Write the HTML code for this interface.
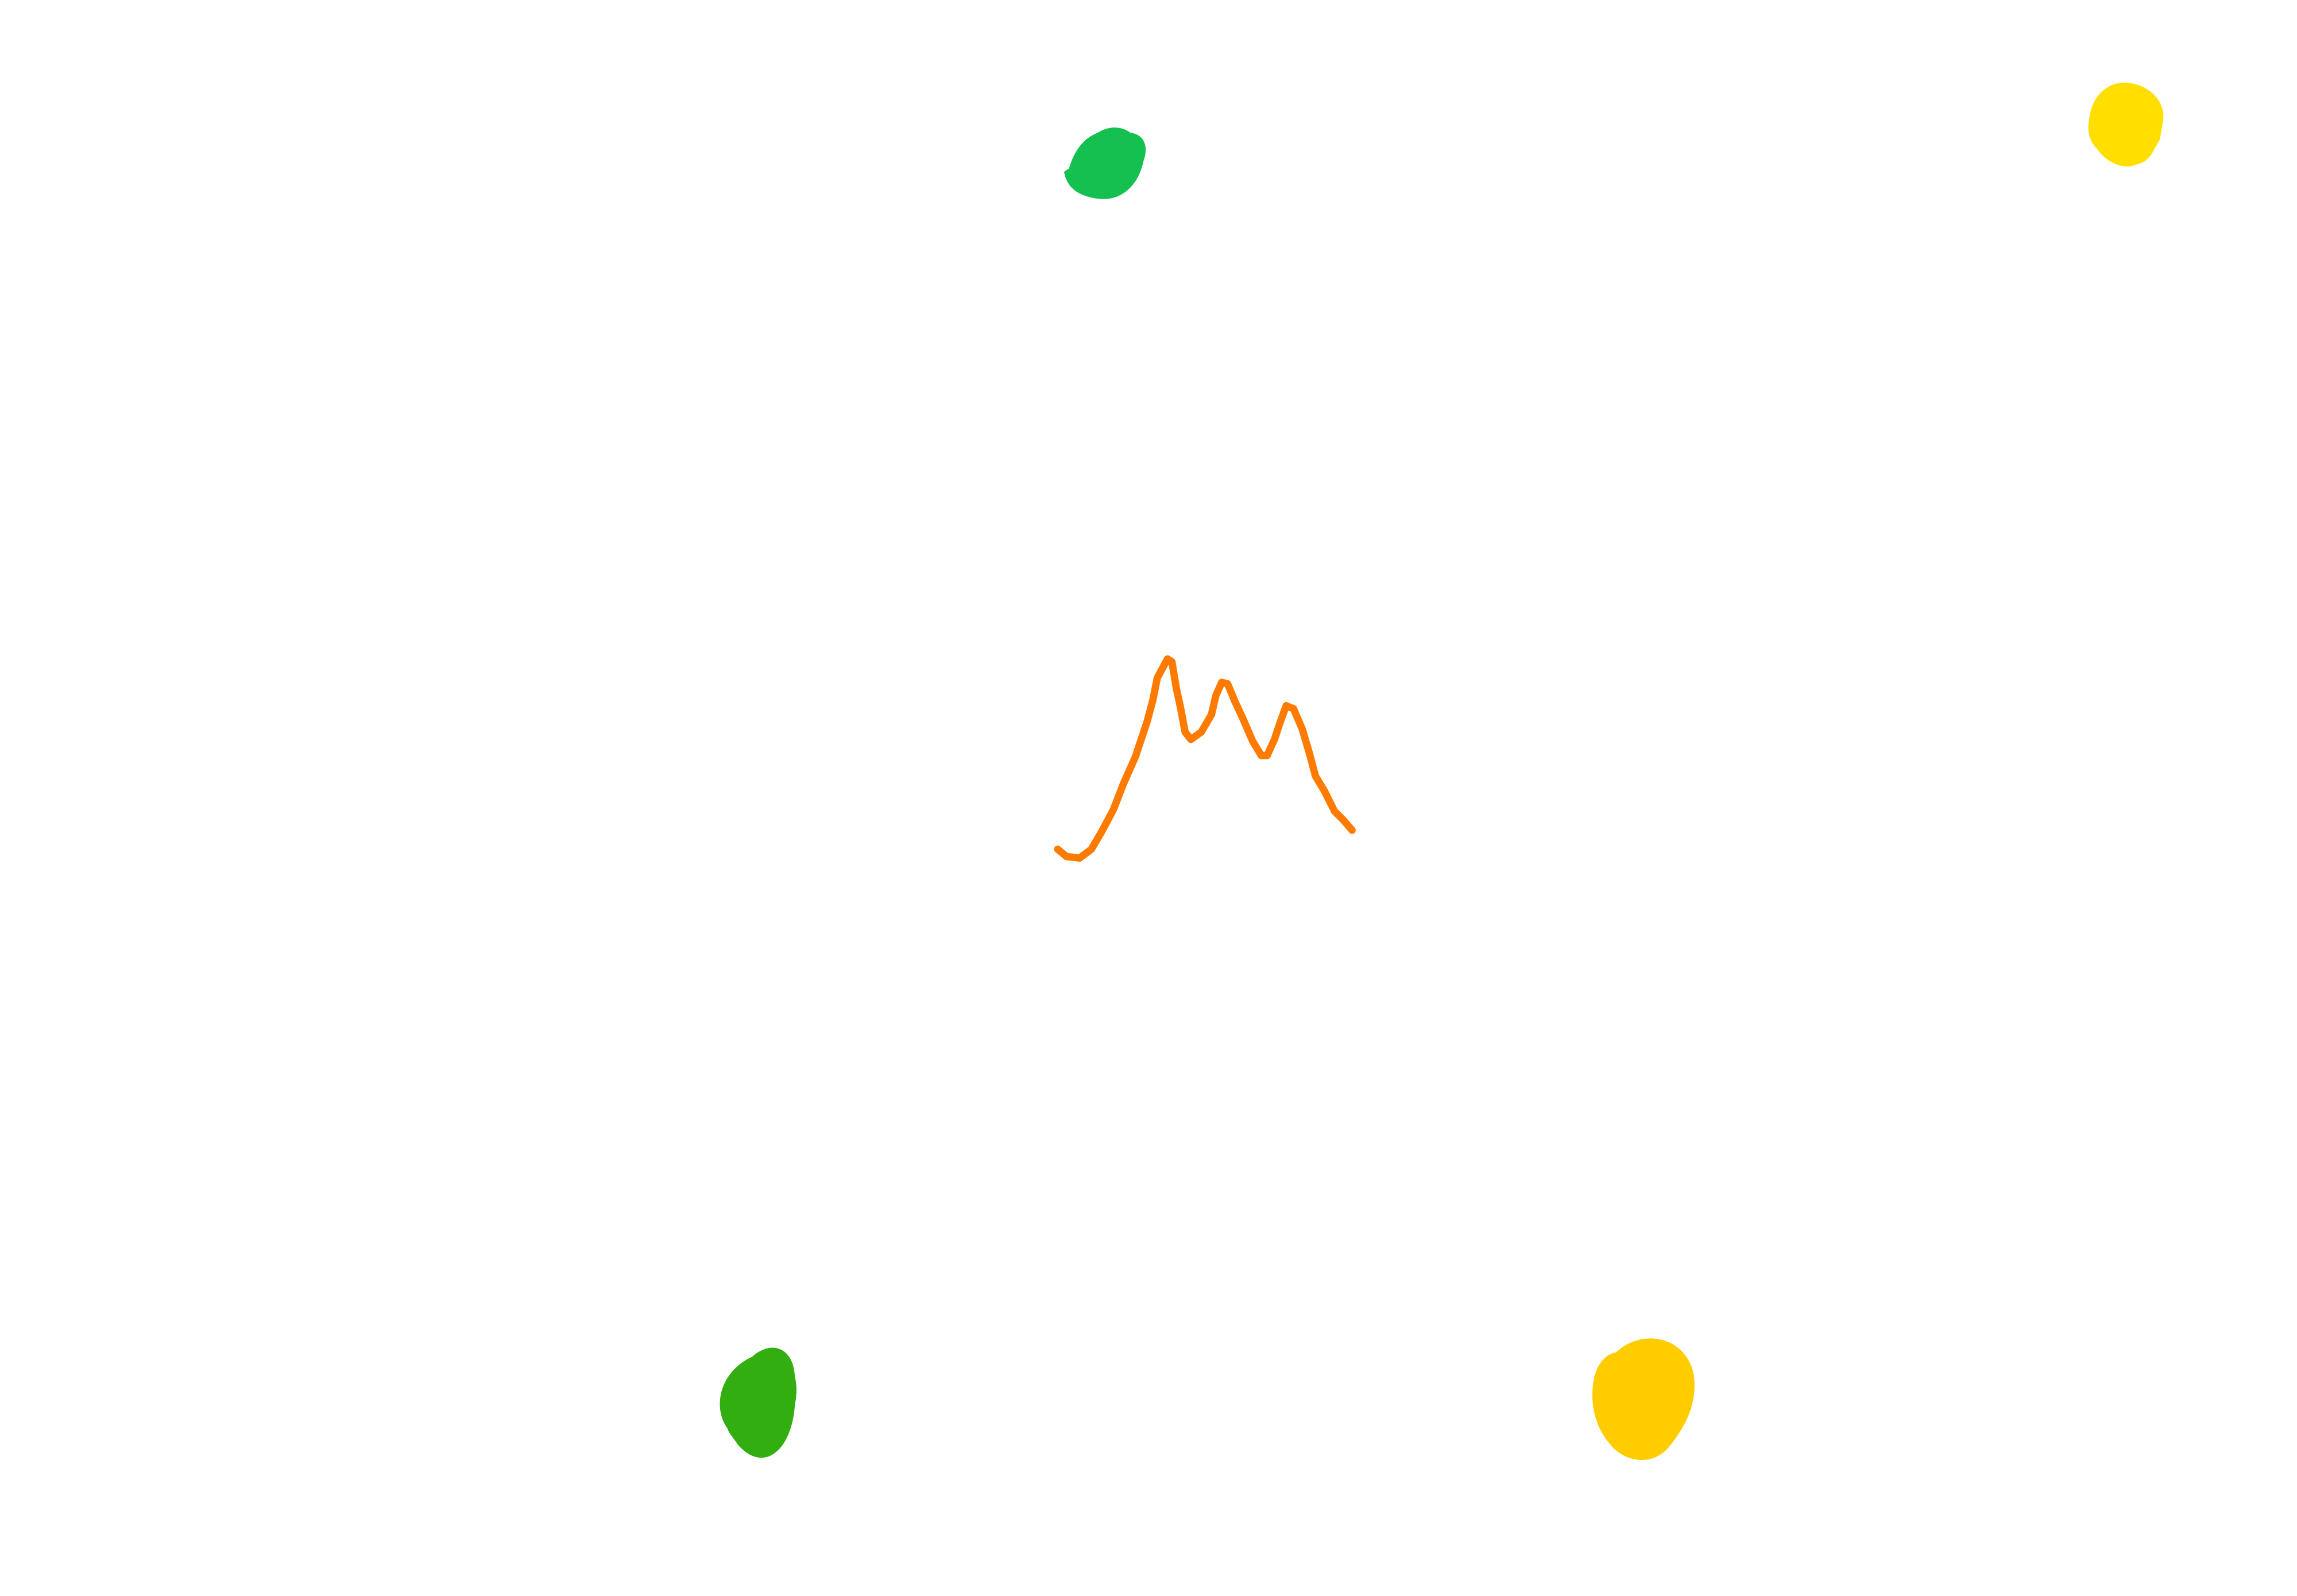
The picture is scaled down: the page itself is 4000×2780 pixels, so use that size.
<!DOCTYPE html>
<html><head><meta charset="utf-8"><style>
html,body{margin:0;padding:0;background:#fff;}
svg{display:block;}
</style></head><body>
<svg width="4000" height="2780" viewBox="0 0 1568 1090" xmlns="http://www.w3.org/2000/svg">
<rect width="1568" height="1090" fill="#fff"/>
<path d="M731,116 C735,102 742,95 750,92 C758,87 766,88 771,92 C779,93 783,99 779,110 C776,125 765,137 748,134 C736,132 730,127 728,118 Z" fill="#13c050" stroke="#13c050" stroke-width="3"/>
<path d="M1428,80 C1430,66 1440,57 1452,58 C1466,59 1478,70 1475,84 L1473,95 C1468,103 1467,109 1458,111 C1448,115 1438,108 1433,101 C1428,96 1426,90 1428,80 Z" fill="#ffde00" stroke="#ffde00" stroke-width="3"/>
<path d="M498,975 C488,962 492,938 514,928 C526,917 540,921 541,940 C543,948 542,954 541,960 C539,988 522,1005 505,986 C501,980 498,977 498,975 Z" fill="#33ae10" stroke="#33ae10" stroke-width="3"/>
<path d="M1104,925 C1120,909 1150,913 1155,940 C1157,958 1150,972 1140,985 C1128,1002 1108,996 1100,985 C1088,971 1087,953 1090,940 C1093,930 1098,926 1104,925 Z" fill="#ffcc00" stroke="#ffcc00" stroke-width="3"/>
<polyline fill="none" stroke="#ff7b00" stroke-width="5" stroke-linecap="round" stroke-linejoin="round"
points="722,580 728,585 737,586 745,580 752,568 760,553 767,535 775,517 783,493 787,478 790,463 797,450 800,452 803,470 806,484 809,500 813,505 820,500 827,488 830,475 834,466 838,467 843,479 849,492 855,506 861,516 865,516 870,505 874,493 878,482 883,484 889,498 894,515 898,530 904,540 911,554 917,560 923,567"/>
</svg>
</body></html>
